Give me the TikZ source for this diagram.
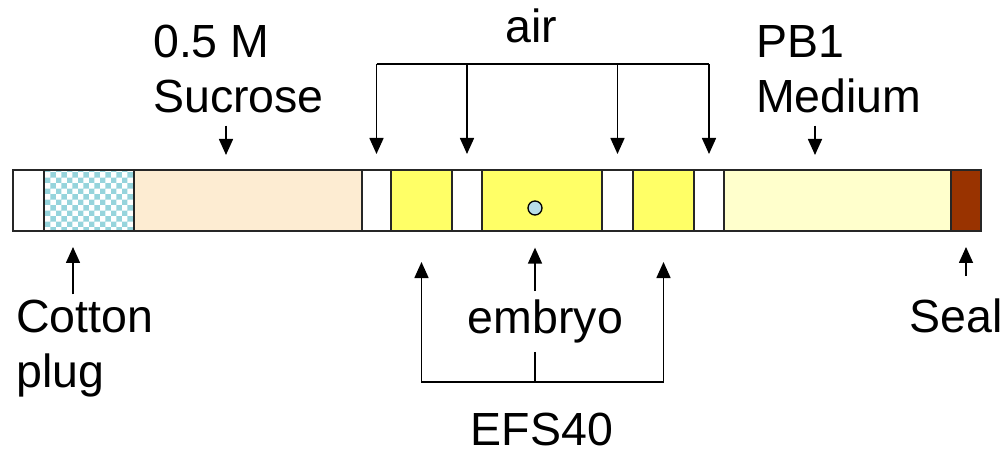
\documentclass[tikz,border=0pt]{standalone}
\usepackage{fontspec}
\setmainfont{Liberation Sans}
\usetikzlibrary{arrows.meta,patterns,calc}
\definecolor{plugc}{RGB}{150,212,220}
\definecolor{succ}{RGB}{253,236,210}
\definecolor{efsc}{RGB}{255,255,102}
\definecolor{medc}{RGB}{255,255,204}
\definecolor{sealc}{RGB}{153,51,0}
\definecolor{embc}{RGB}{183,221,232}
\tikzset{
  seg/.style={draw=black!85,line width=1.8pt,minimum height=61pt,inner sep=0pt,outer sep=0pt},
  lbl/.style={font=\fontsize{46.5}{55}\selectfont,align=left,inner sep=0pt},
  arr/.style={-{Triangle[length=16pt,width=14pt]},line width=1.6pt}
}

\begin{document}
\begin{tikzpicture}[x=1pt,y=-1pt]
\useasboundingbox (0,0) rectangle (1006,454);
\newcommand{\tubeseg}[4]{\node[seg,#4,minimum width=#3pt] (#1) at (#2,200.5) {};}
% the tube, left to right
\tubeseg{gapA}{28.5}{31}{fill=white}
\tubeseg{plug}{89}{90}{pattern=checkerboard,pattern color=plugc}
\tubeseg{sucr}{248}{228}{fill=succ}
\tubeseg{gapB}{376.5}{29}{fill=white}
\tubeseg{efsA}{421.5}{61}{fill=efsc}
\tubeseg{gapC}{467}{30}{fill=white}
\tubeseg{efsB}{542}{120}{fill=efsc}
\tubeseg{gapD}{617.5}{31}{fill=white}
\tubeseg{efsC}{663.5}{61}{fill=efsc}
\tubeseg{gapE}{709}{30}{fill=white}
\tubeseg{med}{837.5}{227}{fill=medc}
\tubeseg{seal}{966}{30}{fill=sealc}
\node[circle,draw,fill=embc,line width=1.3pt,minimum size=14pt,inner sep=0pt] (emb) at (535,208) {};
% labels
\node[lbl,anchor=base west] (sucl) at (153,113) {0.5 M\\Sucrose};
\node[lbl,anchor=base west] (medl) at (756,113) {PB1\\Medium};
\node[lbl,anchor=base] (airl) at (531,43) {air};
\node[lbl,anchor=base west] (cotl) at (16,387) {Cotton\\plug};
\node[lbl,anchor=base] (embl) at (545.5,333) {embryo};
\node[lbl,anchor=base] (efsl) at (542,445) {EFS40};
\node[lbl,anchor=base] (sealc) at (956.5,332) {Seal};
% air
\coordinate (airbar) at (0,64);
\draw[line width=1.6pt] (gapB.north |- airbar) -- (gapE.north |- airbar);
\foreach \g in {gapB,gapC,gapD,gapE}
  \draw[arr,shorten >=16pt] (\g.north |- airbar) -- (\g.north);
\draw[arr,shorten <=12pt,shorten >=15pt] ([xshift=-22pt]sucr.north |- sucl.south) -- ([xshift=-22pt]sucr.north);
\draw[arr,shorten <=12pt,shorten >=15pt] ([xshift=-22.5pt]med.north |- medl.south) -- ([xshift=-22.5pt]med.north);
% bottom
\draw[arr,shorten >=16pt] ([xshift=-16pt]plug.south |- cotl.north) ++(0,-5) -- ([xshift=-16pt]plug.south);
\draw[arr,shorten <=22pt,shorten >=16pt] (seal.south |- sealc.north) -- (seal.south);
\draw[arr,shorten >=32pt] ([yshift=8pt]embl.north -| emb) -- (emb.south);
\coordinate (fork) at (emb |- 0,382);
\draw[line width=1.6pt] ([yshift=-9pt]embl.south -| emb) -- (fork);
\draw[arr,shorten >=31pt] (fork) -| (efsA.south);
\draw[arr,shorten >=31pt] (fork) -| (efsC.south);
\end{tikzpicture}
\end{document}
